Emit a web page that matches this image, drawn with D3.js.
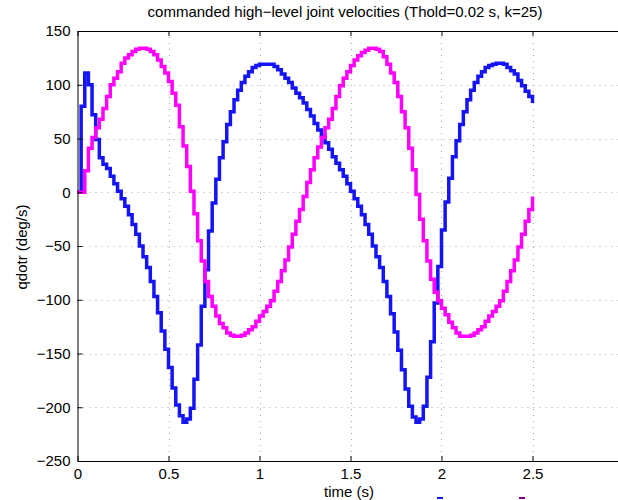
<!DOCTYPE html>
<html><head><meta charset="utf-8">
<script src="https://cdn.jsdelivr.net/npm/d3@7"></script>
<style>
body{margin:0;background:#fff}
svg{display:block}
text{font-family:"Liberation Sans",Arial,Helvetica,sans-serif;fill:#000}
</style>
</head><body><div id="chart"></div>
<script>
const title = "commanded high\u2212level joint velocities (Thold=0.02 s, k=25)";
const xLabel = "time (s)";
const yLabel = "qdotr (deg/s)";
const Thold = 0.02;
const xTicks = [0, 0.5, 1, 1.5, 2, 2.5, 3];
const xTickLabels = ["0", "0.5", "1", "1.5", "2", "2.5", ""];
const yTicks = [-250, -200, -150, -100, -50, 0, 50, 100, 150];
const yTickLabels = ["\u2212250", "\u2212200", "\u2212150", "\u2212100", "\u221250", "0", "50", "100", "150"];
const seriesColors = ["#1414f5", "#ff00ff"];
const legendMarkColors = ["#1414f5", "#800080"];

// sample times: one hold period (0.02 s) per sample, 0 .. 2.5 s
const times = d3.range(126).map(i => Math.round(i * Thold * 100) / 100);

// joint 1 (blue), deg/s
const qdot1 = [
  0, 80, 111, 100, 72, 49, 32, 26, 22, 15,
  8, 1, -6, -13, -21, -30, -39, -50, -60, -70,
  -83, -97, -112, -129, -146, -163, -182, -198, -208, -214,
  -211, -201, -174, -142, -106, -72, -36, -10, 12, 32,
  47, 63, 75, 86, 95, 102, 108, 112, 116, 118,
  119, 119, 119, 119, 117, 114, 110, 106, 102, 97,
  92, 88, 83, 77, 71, 64, 58, 52, 46, 40,
  33, 27, 21, 15, 8, 1, -6, -13, -21, -30,
  -39, -50, -60, -70, -83, -97, -113, -130, -147, -165,
  -183, -199, -209, -214, -211, -199, -172, -139, -103, -69,
  -35, -9, 13, 33, 48, 63, 75, 86, 95, 102,
  108, 112, 116, 118, 119, 120, 120, 119, 116, 113,
  110, 104, 99, 94, 89, 83
];

// joint 2 (magenta), deg/s
const qdot2 = [
  0, 0, 20, 41, 51, 60, 68, 78, 89, 100,
  106, 112, 120, 125, 128, 131, 133, 134, 134, 133,
  131, 128, 123, 117, 111, 103, 92, 81, 61, 43,
  24, 1, -20, -45, -64, -83, -97, -106, -115, -122,
  -126, -131, -133, -134, -134, -133, -131, -128, -125, -120,
  -115, -111, -106, -101, -92, -83, -73, -63, -51, -39,
  -27, -16, -4, 9, 21, 32, 42, 51, 60, 68,
  78, 89, 99, 106, 112, 118, 123, 127, 130, 132,
  134, 134, 133, 131, 126, 119, 111, 102, 89, 75,
  60, 41, 21, -2, -25, -45, -64, -81, -93, -101,
  -108, -114, -121, -126, -131, -134, -134, -134, -133, -131,
  -128, -125, -120, -115, -111, -106, -101, -92, -83, -73,
  -63, -51, -39, -27, -16, -4
];

const W = 618, H = 500;
const svg = d3.select("#chart").append("svg").attr("width", W).attr("height", H);
svg.append("rect").attr("width", W).attr("height", H).attr("fill", "#fff");

const x = d3.scaleLinear().domain([0, 3]).range([77.5, 623.5]);
const y = d3.scaleLinear().domain([-250, 150]).range([461, 31]);

// grid
const grid = svg.append("g").attr("stroke", "#a8a8a8").attr("stroke-width", 1)
  .attr("stroke-dasharray", "1,5");
grid.selectAll("line.gx").data(xTicks.slice(1)).enter().append("line")
  .attr("x1", d => Math.round(x(d)) + 0.5).attr("x2", d => Math.round(x(d)) + 0.5)
  .attr("y1", y(150)).attr("y2", y(-250));
grid.selectAll("line.gy").data(yTicks.slice(1, -1)).enter().append("line")
  .attr("y1", d => Math.round(y(d)) + 0.5).attr("y2", d => Math.round(y(d)) + 0.5)
  .attr("x1", x(0)).attr("x2", x(3));

// data lines
const line = d3.line().x(d => x(d[0])).y(d => y(d[1])).curve(d3.curveStepAfter);
[qdot1, qdot2].forEach((vals, si) => {
  svg.append("path")
    .datum(times.map((t, i) => [t, vals[i]]))
    .attr("fill", "none").attr("stroke", seriesColors[si])
    .attr("stroke-width", 3.5).attr("stroke-linejoin", "miter")
    .attr("d", line);
});

// axes (MATLAB style ticks inside)
const axB = d3.axisBottom(x).tickValues(xTicks).tickFormat((d, i) => xTickLabels[i])
  .tickSizeInner(-5).tickSizeOuter(0).tickPadding(7);
const gB = svg.append("g").attr("transform", `translate(0,${y(-250)})`).call(axB);
const axT = d3.axisTop(x).tickValues(xTicks).tickFormat("")
  .tickSizeInner(-5).tickSizeOuter(0);
const gT = svg.append("g").attr("transform", `translate(0,${y(150)})`).call(axT);
const axL = d3.axisLeft(y).tickValues(yTicks).tickFormat((d, i) => yTickLabels[i])
  .tickSizeInner(-5).tickSizeOuter(0).tickPadding(7);
const gL = svg.append("g").attr("transform", `translate(${x(0)},0)`).call(axL);
[gB, gT, gL].forEach(g => {
  g.selectAll(".domain").attr("stroke", "#000").attr("stroke-width", 1);
  g.selectAll(".tick line").attr("stroke", "#000");
  g.selectAll("text").attr("font-size", 15).attr("fill", "#000")
    .style("font-family", '"Liberation Sans",Arial,sans-serif');
});

// title and labels
svg.append("text").attr("x", 345).attr("y", 17).attr("text-anchor", "middle")
  .attr("font-size", 15).text(title);
svg.append("text").attr("x", 349).attr("y", 497).attr("text-anchor", "middle")
  .attr("font-size", 15).text(xLabel);
svg.append("text").attr("transform", "translate(27,247) rotate(-90)")
  .attr("text-anchor", "middle").attr("font-size", 15).text(yLabel);

// clipped legend fragments at the bottom edge
svg.selectAll("rect.lg").data(legendMarkColors).enter().append("rect")
  .attr("x", (d, i) => [437, 519][i]).attr("y", 497).attr("width", 6).attr("height", 2)
  .attr("fill", d => d);
</script>
</body></html>
